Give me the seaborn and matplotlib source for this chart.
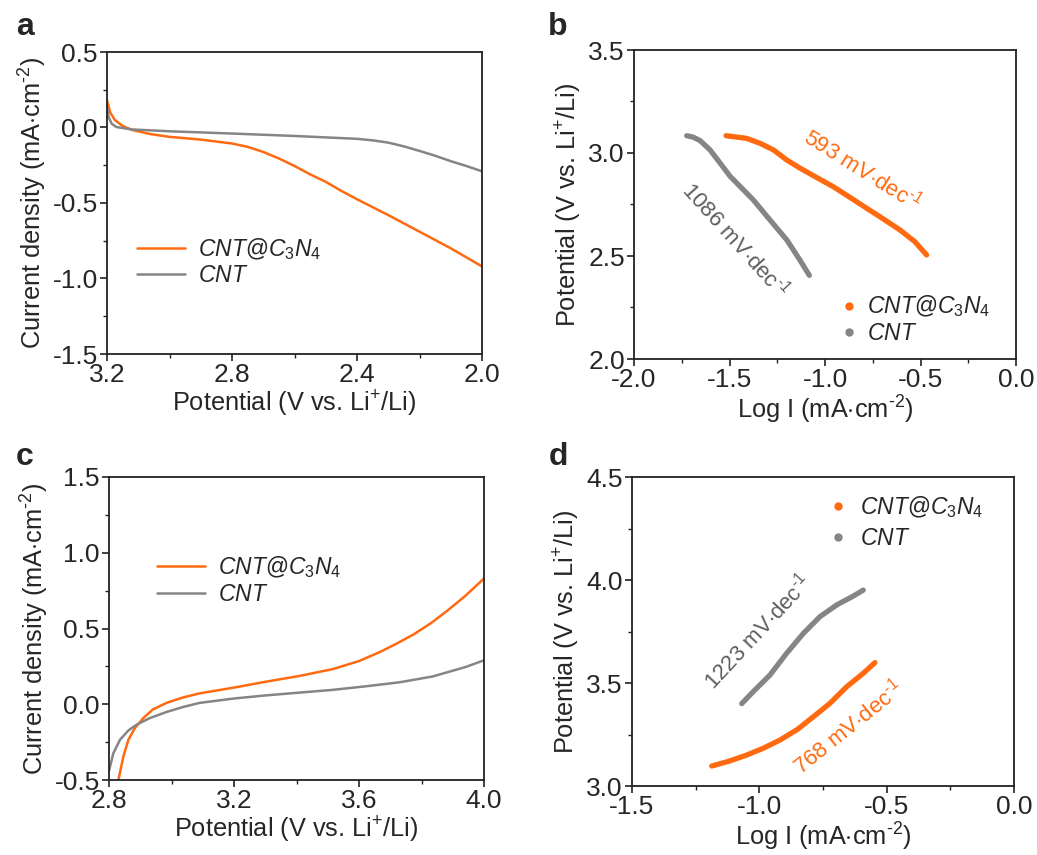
import numpy as np
import pandas as pd
import matplotlib
matplotlib.use("Agg")
import matplotlib.pyplot as plt
from matplotlib.lines import Line2D
from matplotlib.ticker import MultipleLocator
import seaborn as sns

# ---------------- data ----------------
# panel a (discharge LSV)
a_x_c3n4 = [3.20, 3.19, 3.175, 3.15, 3.12, 3.06, 3.00, 2.90, 2.80, 2.75, 2.70, 2.65, 2.60, 2.55, 2.50,
            2.45, 2.40, 2.30, 2.20, 2.10, 2.00]
a_y_c3n4 = [0.18, 0.10, 0.05, 0.01, -0.016, -0.044, -0.062, -0.08, -0.106, -0.128, -0.162, -0.205, -0.255,
            -0.31, -0.36, -0.42, -0.475, -0.58, -0.69, -0.80, -0.92]
a_x_cnt = [3.20, 3.195, 3.185, 3.17, 3.12, 3.00, 2.80, 2.60, 2.40, 2.35, 2.30, 2.25, 2.20, 2.15, 2.10, 2.05, 2.00]
a_y_cnt = [0.13, 0.07, 0.025, 0.003, -0.013, -0.025, -0.04, -0.056, -0.075, -0.085, -0.10, -0.125, -0.155,
           -0.187, -0.223, -0.255, -0.29]

# panel b (Tafel, discharge)
b_x_c3n4 = [-1.518, -1.41, -1.34, -1.27, -1.20, -1.13, -1.03, -0.956, -0.87, -0.782, -0.70, -0.607, -0.53, -0.468]
b_y_c3n4 = [3.084, 3.071, 3.047, 3.015, 2.966, 2.926, 2.874, 2.836, 2.785, 2.732, 2.683, 2.626, 2.57, 2.505]
b_x_cnt = [-1.724, -1.69, -1.654, -1.602, -1.55, -1.497, -1.375, -1.288, -1.20, -1.131, -1.082]
b_y_cnt = [3.084, 3.077, 3.06, 3.015, 2.952, 2.887, 2.772, 2.675, 2.578, 2.48, 2.406]

# panel c (charge LSV)
c_x_c3n4 = [2.83, 2.846, 2.862, 2.883, 2.91, 2.94, 2.984, 3.037, 3.09, 3.20, 3.30, 3.41, 3.516, 3.60,
            3.667, 3.72, 3.774, 3.83, 3.881, 3.94, 4.00]
c_y_c3n4 = [-0.50, -0.345, -0.235, -0.157, -0.091, -0.035, 0.009, 0.045, 0.072, 0.11, 0.148, 0.187, 0.232,
            0.285, 0.345, 0.40, 0.46, 0.535, 0.615, 0.715, 0.83]
c_x_cnt = [2.80, 2.814, 2.835, 2.862, 2.888, 2.931, 2.984, 3.037, 3.09, 3.20, 3.30, 3.41, 3.516, 3.62,
           3.73, 3.835, 3.94, 4.00]
c_y_cnt = [-0.44, -0.323, -0.235, -0.173, -0.135, -0.091, -0.051, -0.018, 0.009, 0.038, 0.058, 0.077,
           0.095, 0.118, 0.145, 0.183, 0.245, 0.29]

# panel d (Tafel, charge)
d_x_c3n4 = [-1.187, -1.12, -1.05, -0.985, -0.919, -0.85, -0.788, -0.723, -0.657, -0.592, -0.546]
d_y_c3n4 = [3.097, 3.12, 3.15, 3.183, 3.223, 3.275, 3.336, 3.401, 3.482, 3.547, 3.599]
d_x_cnt = [-1.069, -1.024, -0.958, -0.893, -0.827, -0.762, -0.696, -0.631, -0.592]
d_y_cnt = [3.40, 3.458, 3.539, 3.644, 3.741, 3.822, 3.879, 3.922, 3.951]

labels = [r"$CNT@C_{\mathit{3}}N_{\mathit{4}}$", r"$CNT$"]
slopes_b = [r"593 mV$\cdot$dec$^{\text{-1}}$", r"1086 mV$\cdot$dec$^{\text{-1}}$"]
slopes_d = [r"768 mV$\cdot$dec$^{\text{-1}}$", r"1223 mV$\cdot$dec$^{\text{-1}}$"]
xlabel_lsv = r"Potential (V vs. Li$^{\text{+}}$/Li)"
ylabel_lsv = r"Current density (mA$\cdot$cm$^{\text{-2}}$)"
xlabel_tafel = r"Log I (mA$\cdot$cm$^{\text{-2}}$)"
ylabel_tafel = r"Potential (V vs. Li$^{\text{+}}$/Li)"

ORANGE = "#FF6A10"
GRAY = "#858585"
ANN_GRAY = "#5E5E5E"

# ---------------- style ----------------
sns.set_style("ticks")
plt.rcParams["font.family"] = ["Liberation Sans", "DejaVu Sans"]
plt.rcParams["mathtext.fontset"] = "custom"
plt.rcParams["mathtext.rm"] = "Liberation Sans"
plt.rcParams["mathtext.it"] = "Liberation Sans:italic"
plt.rcParams["mathtext.bf"] = "Liberation Sans:bold"
plt.rcParams["mathtext.sf"] = "Liberation Sans"
plt.rcParams["axes.unicode_minus"] = False

TICK_FS = 19
LABEL_FS = 18.3
LEG_FS = 16.5
ANN_FS = 16

W, H = 1037, 855
fig = plt.figure(figsize=(W / 100, H / 100), dpi=100)


def px_axes(l, t, r, b):
    return fig.add_axes([l / W, 1 - b / H, (r - l) / W, (b - t) / H])


def style_axes(ax, xmaj, ymaj):
    ax.xaxis.set_major_locator(MultipleLocator(xmaj))
    ax.xaxis.set_minor_locator(MultipleLocator(xmaj / 2))
    ax.yaxis.set_major_locator(MultipleLocator(ymaj))
    ax.yaxis.set_minor_locator(MultipleLocator(ymaj / 2))
    ax.tick_params(which="major", direction="out", length=5, width=1.2,
                   labelsize=TICK_FS, pad=1.5, color="#222222", top=False, right=False)
    ax.tick_params(which="minor", direction="out", length=3, width=1.0,
                   color="#222222", top=False, right=False)
    for s in ax.spines.values():
        s.set_linewidth(1.3)
        s.set_color("#222222")
        s.set_visible(True)


ax_a = px_axes(107, 52, 482, 354)
ax_b = px_axes(634, 50, 1016, 359)
ax_c = px_axes(109, 477, 484, 780)
ax_d = px_axes(632, 477, 1014, 786)

# ---- panel a ----
sns.lineplot(x=a_x_c3n4, y=a_y_c3n4, ax=ax_a, color=ORANGE, lw=1.8, label=labels[0])
sns.lineplot(x=a_x_cnt, y=a_y_cnt, ax=ax_a, color=GRAY, lw=1.8, label=labels[1])
ax_a.set_xlim(3.2, 2.0)
ax_a.set_ylim(-1.5, 0.5)
style_axes(ax_a, 0.4, 0.5)
ax_a.set_xticks([3.2, 2.8, 2.4, 2.0])
ax_a.set_xticklabels(["3.2", "2.8", "2.4", "2.0"])
ax_a.set_xlabel(xlabel_lsv, fontsize=LABEL_FS, labelpad=1)
ax_a.set_ylabel(ylabel_lsv, fontsize=LABEL_FS, labelpad=3)
ax_a.legend(frameon=False, fontsize=LEG_FS, loc="center left", bbox_to_anchor=(0.08, 0.306),
            borderpad=0, borderaxespad=0, handlelength=2.1, handletextpad=0.55, labelspacing=0.12)

# ---- panel c ----
sns.lineplot(x=c_x_c3n4, y=c_y_c3n4, ax=ax_c, color=ORANGE, lw=1.8, label=labels[0])
sns.lineplot(x=c_x_cnt, y=c_y_cnt, ax=ax_c, color=GRAY, lw=1.8, label=labels[1])
ax_c.set_xlim(2.8, 4.0)
ax_c.set_ylim(-0.5, 1.5)
style_axes(ax_c, 0.4, 0.5)
ax_c.set_xticks([2.8, 3.2, 3.6, 4.0])
ax_c.set_xticklabels(["2.8", "3.2", "3.6", "4.0"])
ax_c.set_xlabel(xlabel_lsv, fontsize=LABEL_FS, labelpad=1)
ax_c.set_ylabel(ylabel_lsv, fontsize=LABEL_FS, labelpad=3)
ax_c.legend(frameon=False, fontsize=LEG_FS, loc="center left", bbox_to_anchor=(0.128, 0.66),
            borderpad=0, borderaxespad=0, handlelength=2.1, handletextpad=0.55, labelspacing=0.12)

# ---- panel b ----
sns.lineplot(x=b_x_c3n4, y=b_y_c3n4, ax=ax_b, color=ORANGE, lw=3.8, solid_capstyle="round", legend=False)
sns.lineplot(x=b_x_cnt, y=b_y_cnt, ax=ax_b, color=GRAY, lw=3.8, solid_capstyle="round", legend=False)
ax_b.set_xlim(-2.0, 0.0)
ax_b.set_ylim(2.0, 3.5)
style_axes(ax_b, 0.5, 0.5)
ax_b.set_xlabel(xlabel_tafel, fontsize=LABEL_FS, labelpad=1)
ax_b.set_ylabel(ylabel_tafel, fontsize=LABEL_FS, labelpad=3)
ax_b.text(-0.801, 2.917, slopes_b[0], color=ORANGE, fontsize=ANN_FS, rotation=-32,
          ha="center", va="center", rotation_mode="anchor")
ax_b.text(-1.471, 2.578, slopes_b[1], color=ANN_GRAY, fontsize=ANN_FS, rotation=-48,
          ha="center", va="center", rotation_mode="anchor")
hb = [Line2D([], [], ls="none", marker="o", ms=5, color=ORANGE),
      Line2D([], [], ls="none", marker="o", ms=5, color=GRAY)]
ax_b.legend(hb, labels, frameon=False, fontsize=LEG_FS, loc="center left", bbox_to_anchor=(0.539, 0.128),
            borderpad=0, borderaxespad=0, handlelength=0.8, handletextpad=0.4, labelspacing=0.12)

# ---- panel d ----
sns.lineplot(x=d_x_c3n4, y=d_y_c3n4, ax=ax_d, color=ORANGE, lw=3.8, solid_capstyle="round", legend=False)
sns.lineplot(x=d_x_cnt, y=d_y_cnt, ax=ax_d, color=GRAY, lw=3.8, solid_capstyle="round", legend=False)
ax_d.set_xlim(-1.5, 0.0)
ax_d.set_ylim(3.0, 4.5)
style_axes(ax_d, 0.5, 0.5)
ax_d.set_xlabel(xlabel_tafel, fontsize=LABEL_FS, labelpad=1)
ax_d.set_ylabel(ylabel_tafel, fontsize=LABEL_FS, labelpad=3)
ax_d.text(-0.652, 3.286, slopes_d[0], color=ORANGE, fontsize=ANN_FS, rotation=38.7,
          ha="center", va="center", rotation_mode="anchor")
ax_d.text(-1.009, 3.748, slopes_d[1], color=ANN_GRAY, fontsize=ANN_FS, rotation=47,
          ha="center", va="center", rotation_mode="anchor")
ax_d.legend(hb, labels, frameon=False, fontsize=LEG_FS, loc="center left", bbox_to_anchor=(0.516, 0.854),
            borderpad=0, borderaxespad=0, handlelength=0.8, handletextpad=0.55, labelspacing=0.3)

# panel letters
for letter, (px, py) in zip("abcd", [(25, 27), (558, 27), (25, 457), (558, 457)]):
    fig.text(px / W, 1 - py / H, letter, fontsize=23, fontweight="bold", ha="center", va="center")

fig.savefig("out.png", dpi=100)
